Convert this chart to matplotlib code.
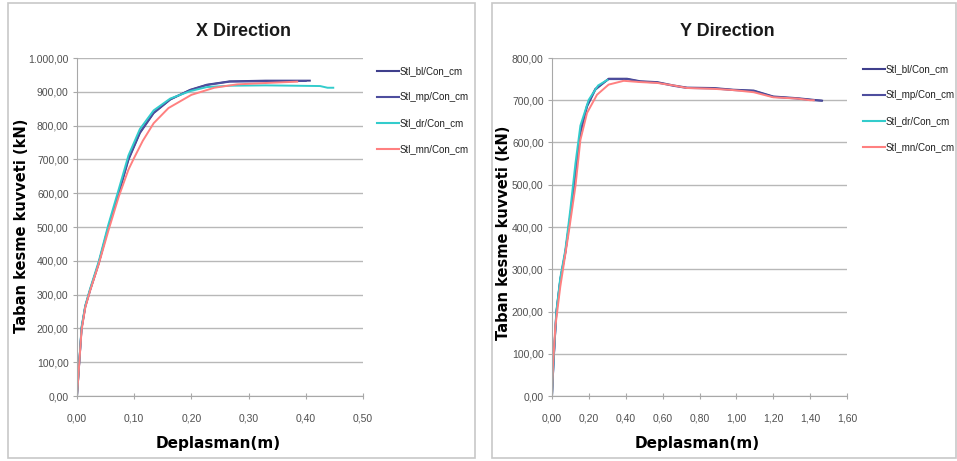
import numpy as np
import matplotlib
matplotlib.use('Agg')
import matplotlib.pyplot as plt
from matplotlib.patches import Rectangle
from matplotlib.ticker import FuncFormatter

plt.rcParams['font.family'] = ['Liberation Sans', 'DejaVu Sans']

series_names = ['Stl_bl/Con_cm', 'Stl_mp/Con_cm', 'Stl_dr/Con_cm', 'Stl_mn/Con_cm']
series_colors = ['#3f3f8c', '#4e4e9e', '#33cccc', '#ff8080']

# X direction (displacement m, base shear kN)
x_bl_d = [0, 0.008, 0.0145, 0.023, 0.038, 0.055, 0.073, 0.09, 0.11, 0.134, 0.163, 0.198, 0.227, 0.267, 0.33, 0.407]
x_bl_f = [0, 200, 265, 314, 393, 501, 600, 699, 778, 837, 877, 906, 921, 931, 933, 933]
x_mp_d = [0, 0.008, 0.0145, 0.023, 0.038, 0.055, 0.073, 0.09, 0.11, 0.134, 0.163, 0.198, 0.227, 0.267, 0.33, 0.40]
x_mp_f = [0, 200, 265, 314, 393, 500, 602, 702, 780, 838, 878, 905, 920, 930, 931, 932]
x_dr_d = [0, 0.008, 0.0145, 0.023, 0.038, 0.055, 0.073, 0.09, 0.11, 0.134, 0.163, 0.198, 0.227, 0.267, 0.33, 0.38, 0.425, 0.438, 0.448]
x_dr_f = [0, 205, 268, 318, 398, 508, 612, 712, 790, 845, 880, 902, 914, 918, 919, 918, 917, 912, 912]
x_mn_d = [0, 0.008, 0.0145, 0.023, 0.038, 0.055, 0.073, 0.09, 0.10, 0.115, 0.134, 0.16, 0.2, 0.24, 0.28, 0.33, 0.385]
x_mn_f = [0, 195, 262, 312, 390, 490, 590, 670, 705, 755, 807, 852, 891, 912, 922, 926, 930]

# Y direction
y_bl_d = [0, 0.009, 0.0235, 0.045, 0.072, 0.099, 0.127, 0.154, 0.19, 0.235, 0.307, 0.407, 0.479, 0.57, 0.66, 0.732, 0.877, 0.985, 1.094, 1.2, 1.33, 1.42, 1.465]
y_bl_f = [0, 85, 196, 275, 338, 425, 527, 622, 685, 725, 751, 751, 745, 743, 735, 730, 729, 725, 723, 709, 705, 701, 699]
y_mp_d = [0, 0.009, 0.0235, 0.045, 0.072, 0.099, 0.127, 0.154, 0.19, 0.235, 0.307, 0.407, 0.479, 0.57, 0.66, 0.732, 0.877, 0.985, 1.094, 1.2, 1.33, 1.42, 1.46]
y_mp_f = [0, 86, 198, 276, 340, 427, 530, 625, 688, 727, 750, 750, 744, 742, 734, 729, 728, 724, 722, 708, 704, 700, 699]
y_dr_d = [0, 0.009, 0.0235, 0.045, 0.072, 0.099, 0.127, 0.154, 0.199, 0.25, 0.30]
y_dr_f = [0, 90, 200, 280, 345, 440, 550, 640, 701, 735, 748]
y_mn_d = [0, 0.005, 0.018, 0.045, 0.09, 0.127, 0.154, 0.19, 0.244, 0.307, 0.389, 0.479, 0.57, 0.66, 0.732, 0.877, 0.985, 1.094, 1.2, 1.33, 1.4, 1.42]
y_mn_f = [0, 70, 164, 259, 385, 496, 606, 670, 713, 737, 746, 743, 741, 735, 729, 727, 724, 719, 707, 704, 700, 700]


def tr_num(v, pos):
    s = f"{v:,.2f}"
    return s.replace(',', 'X').replace('.', ',').replace('X', '.')


fig = plt.figure(figsize=(9.57, 4.61), dpi=100)
W, H = 957, 461

# panel borders
for x0, x1 in [(8, 475), (492, 956)]:
    fig.patches.append(Rectangle((x0 / W, 3 / H), (x1 - x0) / W, (458 - 3) / H,
                                 transform=fig.transFigure, fill=False,
                                 edgecolor='#c8c8c8', linewidth=1.2))

panels = [
    dict(box=(77, 363), title='X Direction', tx=243, xmax=0.5, xstep=0.1, ymax=1000, ystep=100,
         data=[(x_bl_d, x_bl_f), (x_mp_d, x_mp_f), (x_dr_d, x_dr_f), (x_mn_d, x_mn_f)],
         leg_x=377, leg_y=[71, 97, 123, 149], ylab_x=22, ylab_y=226),
    dict(box=(552, 847), title='Y Direction', tx=727, xmax=1.6, xstep=0.2, ymax=800, ystep=100,
         data=[(y_bl_d, y_bl_f), (y_mp_d, y_mp_f), (y_dr_d, y_dr_f), (y_mn_d, y_mn_f)],
         leg_x=863, leg_y=[69, 95, 121, 147], ylab_x=504, ylab_y=233),
]

for p in panels:
    l, r = p['box']
    ax = fig.add_axes([l / W, (H - 396) / H, (r - l) / W, (396 - 58) / H])
    for (d, f), c in zip(p['data'], series_colors):
        ax.plot(d, f, color=c, linewidth=1.4)
    ax.set_xlim(0, p['xmax'])
    ax.set_ylim(0, p['ymax'])
    ax.set_xticks(np.arange(0, p['xmax'] + 1e-9, p['xstep']))
    ax.set_yticks(np.arange(0, p['ymax'] + 1e-9, p['ystep']))
    ax.xaxis.set_major_formatter(FuncFormatter(tr_num))
    ax.yaxis.set_major_formatter(FuncFormatter(tr_num))
    ax.grid(axis='y', color='#b8b8b8', linewidth=1)
    ax.set_axisbelow(True)
    for s in ['top', 'right']:
        ax.spines[s].set_visible(False)
    for s in ['left', 'bottom']:
        ax.spines[s].set_color('#a8a8a8')
    ax.tick_params(axis='both', colors='#a8a8a8', labelcolor='#505050', labelsize=7.5,
                   length=3)
    ax.tick_params(axis='y', direction='out', pad=3)
    ax.tick_params(axis='x', direction='inout', length=5, pad=10)

    fig.text(p['tx'] / W, 1 - 31 / H, p['title'], ha='center', va='center',
             fontsize=13, fontweight='bold', color='#1a1a1a')
    fig.text(((l + r) / 2 - 2) / W, 1 - 443 / H, 'Deplasman(m)', ha='center', va='center',
             fontsize=11, fontweight='bold', family='DejaVu Sans')
    fig.text(p['ylab_x'] / W, 1 - p['ylab_y'] / H, 'Taban kesme kuvveti (kN)',
             ha='center', va='center', rotation=90, fontsize=10.5, fontweight='bold',
             family='DejaVu Sans')

    for name, c, yy in zip(series_names, series_colors, p['leg_y']):
        fig.add_artist(plt.Line2D([p['leg_x'] / W, (p['leg_x'] + 22) / W],
                                  [1 - yy / H, 1 - yy / H], color=c, linewidth=1.5))
        fig.text((p['leg_x'] + 23) / W, 1 - yy / H, name, ha='left', va='center',
                 fontsize=7, color='#202020')

fig.savefig('out.png', dpi=100)
